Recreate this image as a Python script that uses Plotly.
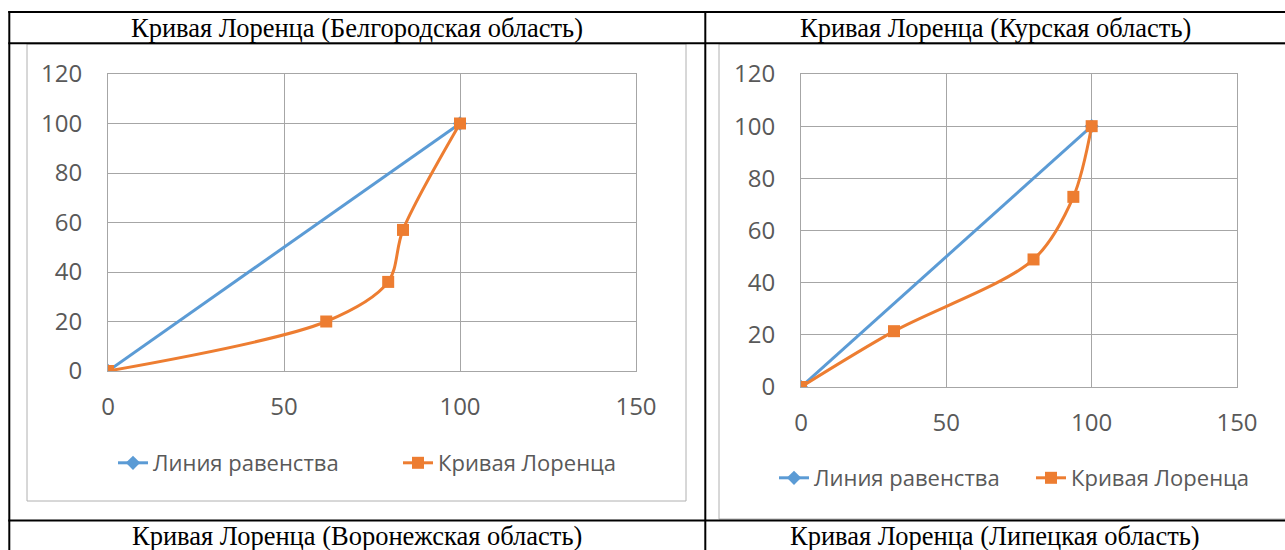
import plotly.graph_objects as go

W, H = 1285, 550

# ---- data ----
eq_x = [0, 100]
eq_y = [0, 100]

belg_x = [0, 62, 79.6, 83.8, 100]
belg_y = [0, 20, 36, 57, 100]

kursk_x = [0, 32, 80, 93.7, 100]
kursk_y = [0, 21.4, 48.9, 72.9, 100]

x_ticks = [0, 50, 100, 150]
y_ticks = [0, 20, 40, 60, 80, 100, 120]

titles_top = ["Кривая Лоренца (Белгородская область)", "Кривая Лоренца (Курская область)"]
titles_bottom = ["Кривая Лоренца (Воронежская область)", "Кривая Лоренца (Липецкая область)"]
series_names = ["Линия равенства", "Кривая Лоренца"]

BLUE = "#5B9BD5"
ORANGE = "#ED7D31"
GRID = "#A6A6A6"
TXT = "#595959"
FONT = "Open Sans, Lato, sans-serif"
SERIF = "Liberation Serif, Times New Roman, serif"
FS_TICK = 24
FS_LEG = 22
FS_TITLE = 26.5


def px(x):
    return x / W


def py(y):
    return 1 - y / H


fig = go.Figure()

charts = [
    dict(xs=belg_x, ys=belg_y, xa="x", ya="y", legend="legend"),
    dict(xs=kursk_x, ys=kursk_y, xa="x2", ya="y2", legend="legend2"),
]

for c in charts:
    fig.add_trace(go.Scatter(
        x=eq_x, y=eq_y, name=series_names[0], mode="lines+markers",
        line=dict(color=BLUE, width=3),
        marker=dict(symbol="diamond", size=11, color=BLUE),
        xaxis=c["xa"], yaxis=c["ya"], legend=c["legend"]))
    fig.add_trace(go.Scatter(
        x=c["xs"], y=c["ys"], name=series_names[1], mode="lines+markers",
        line=dict(color=ORANGE, width=3, shape="spline", smoothing=0.9),
        marker=dict(symbol="square", size=12, color=ORANGE),
        xaxis=c["xa"], yaxis=c["ya"], legend=c["legend"]))


def xaxis(domain, anchor):
    return dict(domain=domain, anchor=anchor, range=[0, 150], tickvals=x_ticks,
                showgrid=True, gridcolor=GRID, gridwidth=1, zeroline=False,
                showline=True, linecolor=GRID, linewidth=1, mirror=True,
                ticks="outside", ticklen=14, tickcolor="rgba(0,0,0,0)", automargin=False,
                tickfont=dict(family=FONT, size=FS_TICK, color=TXT), fixedrange=True)


def yaxis(domain, anchor):
    return dict(domain=domain, anchor=anchor, range=[0, 120], tickvals=y_ticks,
                showgrid=True, gridcolor=GRID, gridwidth=1, zeroline=False,
                showline=True, linecolor=GRID, linewidth=1, mirror=True,
                ticks="outside", ticklen=20, tickcolor="rgba(0,0,0,0)", automargin=False,
                tickfont=dict(family=FONT, size=FS_TICK, color=TXT), fixedrange=True)


legend_common = dict(orientation="h", xanchor="left", yanchor="middle",
                     bgcolor="rgba(0,0,0,0)", borderwidth=0,
                     font=dict(family=FONT, size=FS_LEG, color=TXT),
                     itemwidth=30, tracegroupgap=0, entrywidthmode="pixels")

shapes = []
line_black = dict(color="black", width=2)
# chart frames (gray)
shapes.append(dict(type="rect", xref="paper", yref="paper", x0=px(27), x1=px(686), y0=py(501), y1=py(44),
                   line=dict(color="#B0B0B0", width=1), fillcolor="rgba(0,0,0,0)", layer="below"))
shapes.append(dict(type="rect", xref="paper", yref="paper", x0=px(719), x1=px(1300), y0=py(519), y1=py(44),
                   line=dict(color="#B0B0B0", width=1), fillcolor="rgba(0,0,0,0)", layer="below"))
# table lines
for y in [12, 43.3, 520.5]:
    shapes.append(dict(type="line", xref="paper", yref="paper", x0=px(8.3), x1=px(1290), y0=py(y), y1=py(y), line=line_black))
for x in [9.3, 705.3]:
    shapes.append(dict(type="line", xref="paper", yref="paper", x0=px(x), x1=px(x), y0=py(11), y1=py(560), line=line_black))

annotations = []
for t, cx in zip(titles_top, [357, 995]):
    annotations.append(dict(text=t, xref="paper", yref="paper", x=px(cx), y=py(28), xanchor="center", yanchor="middle",
                            showarrow=False, font=dict(family=SERIF, size=FS_TITLE, color="black")))
for t, cx in zip(titles_bottom, [357, 995]):
    annotations.append(dict(text=t, xref="paper", yref="paper", x=px(cx), y=py(535.5), xanchor="center", yanchor="middle",
                            showarrow=False, font=dict(family=SERIF, size=FS_TITLE, color="black")))

fig.update_layout(
    width=W, height=H, autosize=False,
    margin=dict(l=0, r=0, t=0, b=0, pad=0, autoexpand=False),
    paper_bgcolor="white", plot_bgcolor="white",
    showlegend=True,
    xaxis=xaxis([px(108), px(636)], "y"),
    yaxis=yaxis([py(371), py(74)], "x"),
    xaxis2=xaxis([px(801), px(1237)], "y2"),
    yaxis2=yaxis([py(387), py(74)], "x2"),
    legend=dict(legend_common, x=px(113), y=py(463), entrywidth=240),
    legend2=dict(legend_common, x=px(774), y=py(478), entrywidth=212),
    shapes=shapes,
    annotations=annotations,
)

fig.write_html("out.html", config={"displayModeBar": False},
               post_script="document.body.style.margin='0';document.body.style.overflow='hidden';")
